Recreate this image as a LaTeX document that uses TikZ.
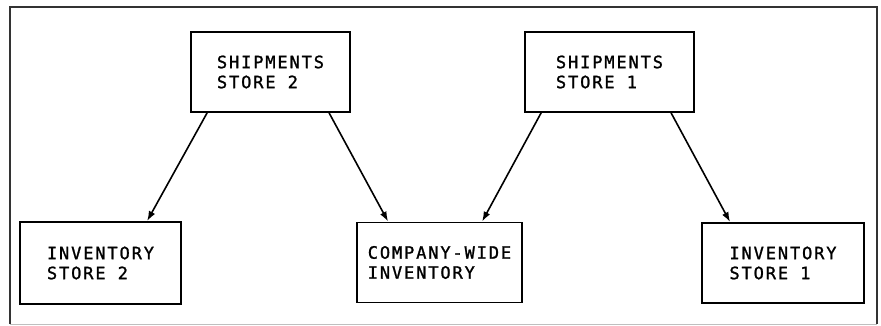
\documentclass[tikz,border=0pt]{standalone}
\usepackage{fontspec}
\usepackage{tikz}
\usetikzlibrary{arrows.meta,positioning}
\newfontfamily\labelfont{DejaVu Sans Mono}[LetterSpace=11,FakeBold=1.3]

\begin{document}
\begin{tikzpicture} [x=1pt, y=-1pt,
         box/.style={draw, line width=1.8pt, minimum height=80pt, align=left,
                     inner sep=0pt, font=\labelfont\fontsize{17}{20}\selectfont},
         flow/.style={line width=1.6pt, -{Latex[length=10pt,width=7pt]}}]
   \useasboundingbox (0,0) rectangle (881,326);
   % outer frame
   \draw[line width=1.2pt, black!80] (10,324) -- (10,7) -- (877,7) -- (877,324);
   \draw[line width=1pt, black!25] (10,324) -- (877,324);

   % shipments
   \node[box, minimum width=159pt] (ship2) at (270.5,72) {SHIPMENTS\\STORE 2};
   \node[box, minimum width=169pt] (ship1) at (609.5,72) {SHIPMENTS\\STORE 1};

   % inventories
   \node[box, minimum width=161pt, minimum height=82pt] (inv2) at (100.5,263) {INVENTORY\\STORE 2};
   \node[box, minimum width=165pt] (company) at (439.5,262.5) {COMPANY-WIDE\\INVENTORY};
   \node[box, minimum width=162pt] (inv1) at (783,263) {INVENTORY\\STORE 1};

   \draw[flow] ([xshift=17pt]ship2.south west) -- ([xshift=128pt]inv2.north west);
   \draw[flow] ([xshift=139pt]ship2.south west) -- ([xshift=32pt]company.north west);
   \draw[flow] ([xshift=17pt]ship1.south west) -- ([xshift=126pt]company.north west);
   \draw[flow] ([xshift=147pt]ship1.south west) -- ([xshift=29pt]inv1.north west);
\end{tikzpicture}
\end{document}
